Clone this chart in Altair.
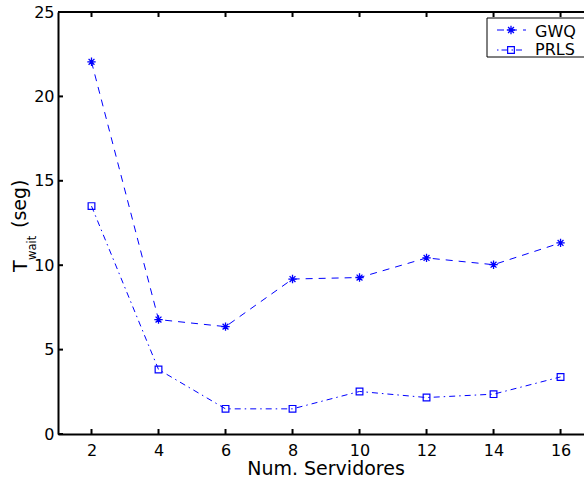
import altair as alt
import pandas as pd

# Waiting time vs. number of servers for two scheduling policies
servers = [2, 4, 6, 8, 10, 12, 14, 16]
gwq = [22.05, 6.78, 6.36, 9.18, 9.27, 10.43, 10.03, 11.32]
prls = [13.5, 3.82, 1.49, 1.49, 2.52, 2.16, 2.36, 3.38]

x_ticks = [2, 4, 6, 8, 10, 12, 14, 16]
y_ticks = [0, 5, 10, 15, 20, 25]
series_names = ["GWQ", "PRLS"]

W, H = 526, 422
FONT = "DejaVu Sans"
BLUE = "#0000ff"
STAR = "M-1,0L1,0M0,-1L0,1M-0.7,-0.7L0.7,0.7M-0.7,0.7L0.7,-0.7"

df = pd.DataFrame({"n": servers, "GWQ": gwq, "PRLS": prls})
xt = pd.DataFrame({"t": x_ticks})
yt = pd.DataFrame({"t": y_ticks})
one = pd.DataFrame({"a": [0]})

xs = alt.Scale(domain=[1, 16.7], nice=False, zero=False)
ys = alt.Scale(domain=[0, 25], nice=False)

# Shared axis definitions (same object on every layer so they merge into one)
x_axis = alt.Axis(
    values=x_ticks, ticks=False, labelPadding=8,
    labelFont=FONT, labelFontSize=16, labelColor="black",
    domainColor="black", domainWidth=2, grid=False, title=None,
)
y_axis = alt.Axis(
    values=y_ticks, ticks=False, labelPadding=4,
    labelFont=FONT, labelFontSize=16, labelColor="black",
    domainColor="black", domainWidth=2, grid=False, title=None,
)


def X(field):
    return alt.X(field, scale=xs, axis=x_axis)


def Y(field):
    return alt.Y(field, scale=ys, axis=y_axis)


base = alt.Chart(df)

gwq_line = base.mark_line(color=BLUE, strokeWidth=1, strokeDash=[7, 6]).encode(
    x=X("n:Q"), y=Y("GWQ:Q")
)
gwq_pts = base.mark_point(
    shape=STAR, filled=False, color=BLUE, size=70, strokeWidth=1.3, opacity=1
).encode(x=X("n:Q"), y=Y("GWQ:Q"))
prls_line = base.mark_line(color=BLUE, strokeWidth=1, strokeDash=[6, 4, 1.5, 4]).encode(
    x=X("n:Q"), y=Y("PRLS:Q")
)
prls_pts = base.mark_point(
    shape="square", filled=False, color=BLUE, size=45, strokeWidth=1.2, opacity=1
).encode(x=X("n:Q"), y=Y("PRLS:Q"))

# Inward-pointing tick marks on the bottom, top and left frame edges
tick_style = dict(color="black", strokeWidth=2)
bottom_ticks = alt.Chart(xt).mark_rule(**tick_style).encode(
    x=X("t:Q"), y=alt.value(H), y2=alt.value(H - 5)
)
top_ticks = alt.Chart(xt).mark_rule(**tick_style).encode(
    x=X("t:Q"), y=alt.value(0), y2=alt.value(5)
)
left_ticks = alt.Chart(yt).mark_rule(**tick_style).encode(
    y=Y("t:Q"), x=alt.value(0), x2=alt.value(5)
)
top_border = alt.Chart(one).mark_rule(color="black", strokeWidth=2).encode(
    x=alt.value(0), x2=alt.value(W), y=alt.value(0)
)

# Legend box with line/marker samples
leg_box = alt.Chart(one).mark_rect(fill="white", stroke="black", strokeWidth=1).encode(
    x=alt.value(429), x2=alt.value(560), y=alt.value(6), y2=alt.value(45)
)
leg_gwq_line = alt.Chart(one).mark_rule(color=BLUE, strokeWidth=1, strokeDash=[7, 6]).encode(
    x=alt.value(439), x2=alt.value(468), y=alt.value(18)
)
leg_gwq_pt = alt.Chart(one).mark_point(
    shape=STAR, filled=False, color=BLUE, size=70, strokeWidth=1.3, opacity=1
).encode(x=alt.value(453), y=alt.value(18))
leg_prls_line = alt.Chart(one).mark_rule(color=BLUE, strokeWidth=1, strokeDash=[1.5, 3, 6, 4]).encode(
    x=alt.value(439), x2=alt.value(468), y=alt.value(38)
)
leg_prls_pt = alt.Chart(one).mark_point(
    shape="square", filled=False, color=BLUE, size=45, strokeWidth=1.2, opacity=1
).encode(x=alt.value(453), y=alt.value(38))

text_style = dict(font=FONT, color="black", baseline="alphabetic")
leg_gwq_text = alt.Chart(one).mark_text(
    text=series_names[0], fontSize=16, align="left", **text_style
).encode(x=alt.value(477), y=alt.value(24.5))
leg_prls_text = alt.Chart(one).mark_text(
    text=series_names[1], fontSize=16, align="left", **text_style
).encode(x=alt.value(477), y=alt.value(43))

# Axis titles: x title centred under the axis, y title as T with subscript "wait"
x_title = alt.Chart(one).mark_text(
    text="Num. Servidores", fontSize=19, align="center", **text_style
).encode(x=alt.value(268), y=alt.value(463))
title_t = alt.Chart(one).mark_text(
    text="T", fontSize=19, angle=270, align="left", **text_style
).encode(x=alt.value(-31), y=alt.value(260))
title_sub = alt.Chart(one).mark_text(
    text="wait", fontSize=11.5, angle=270, align="left", **text_style
).encode(x=alt.value(-22), y=alt.value(248))
title_unit = alt.Chart(one).mark_text(
    text="(seg)", fontSize=19, angle=270, align="left", **text_style
).encode(x=alt.value(-32), y=alt.value(216))

chart = alt.layer(
    gwq_line, prls_line, gwq_pts, prls_pts,
    bottom_ticks, top_ticks, left_ticks, top_border,
    leg_box, leg_gwq_line, leg_gwq_pt, leg_prls_line, leg_prls_pt,
    leg_gwq_text, leg_prls_text,
    x_title, title_t, title_sub, title_unit,
).properties(
    width=W, height=H,
    autosize=alt.AutoSizeParams(type="none"),
    padding={"left": 58, "top": 12, "right": 0, "bottom": 49},
    background="white",
).configure_view(stroke=None)

chart.save("out.html", embed_options={"renderer": "svg", "actions": False})
